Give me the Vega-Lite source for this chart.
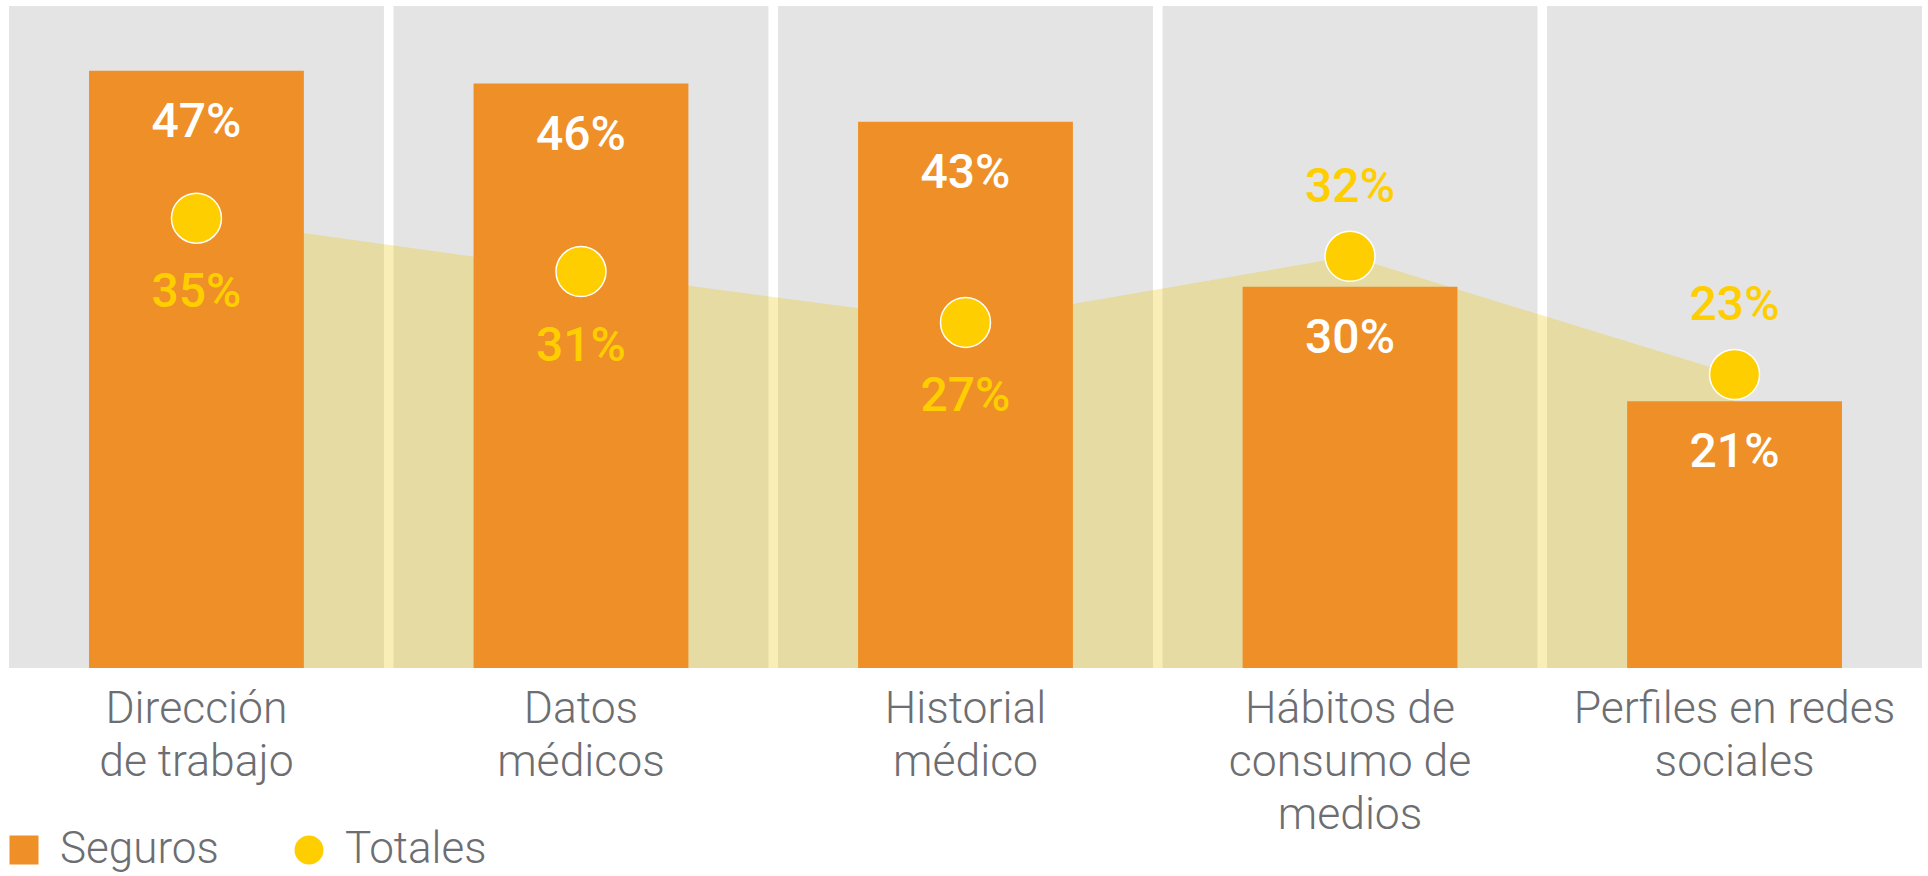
{
  "$schema": "https://vega.github.io/schema/vega-lite/v6.json",
  "width": 1913,
  "height": 662,
  "autosize": "none",
  "padding": {"left": 9, "top": 6, "right": 6, "bottom": 208},
  "background": "white",
  "config": {"view": {"stroke": null}, "font": "Roboto"},
  "data": {"values": [
    {"categoria": "Dirección de trabajo", "seguros": 0.47, "totales": 0.354},
    {"categoria": "Datos médicos", "seguros": 0.46, "totales": 0.312},
    {"categoria": "Historial médico", "seguros": 0.43, "totales": 0.272},
    {"categoria": "Hábitos de consumo de medios", "seguros": 0.30, "totales": 0.324},
    {"categoria": "Perfiles en redes sociales", "seguros": 0.21, "totales": 0.231}
  ]},
  "encoding": {
    "x": {
      "field": "categoria", "type": "nominal", "sort": null,
      "scale": {"paddingInner": 0.025, "paddingOuter": 0},
      "axis": {
        "title": null, "domain": false, "ticks": false, "labelAngle": 0,
        "labelFont": "Roboto", "labelFontWeight": 300, "labelFontSize": 44.5,
        "labelLineHeight": 53, "labelColor": "#6D6E71", "labelPadding": 19,
        "labelBaseline": "top", "labelLimit": 0, "labelOverlap": false,
        "labelExpr": "datum.value == 'Dirección de trabajo' ? ['Dirección', 'de trabajo'] : datum.value == 'Datos médicos' ? ['Datos', 'médicos'] : datum.value == 'Historial médico' ? ['Historial', 'médico'] : datum.value == 'Hábitos de consumo de medios' ? ['Hábitos de', 'consumo de', 'medios'] : ['Perfiles en redes', 'sociales']"
      }
    }
  },
  "layer": [
    {
      "mark": {"type": "bar", "color": "#E4E4E4"},
      "encoding": {
        "y": {"datum": 0.521, "type": "quantitative", "scale": {"domain": [0, 0.521], "nice": false, "zero": true}, "axis": null}
      }
    },
    {
      "mark": {"type": "area", "color": "#EBC300", "opacity": 0.29},
      "encoding": {
        "y": {"field": "totales", "type": "quantitative", "axis": null}
      }
    },
    {
      "mark": {"type": "bar", "width": {"band": 0.573}},
      "encoding": {
        "y": {"field": "seguros", "type": "quantitative", "axis": null},
        "color": {
          "datum": "Seguros",
          "scale": {"domain": ["Seguros", "Totales"], "range": ["#EF8F27", "#FFCE00"]},
          "legend": {
            "orient": "none", "legendX": -7, "legendY": 822, "direction": "horizontal",
            "title": null, "symbolSize": 841, "symbolStrokeWidth": 0, "symbolOpacity": 1,
            "labelFont": "Roboto", "labelFontWeight": 300, "labelFontSize": 44, "labelColor": "#6D6E71",
            "labelOffset": 14, "columnPadding": 68, "padding": 0, "labelLimit": 0,
            "encode": {"symbols": {"update": {"shape": {"signal": "datum.value === 'Seguros' ? 'square' : 'circle'"}}}}
          }
        }
      }
    },
    {
      "mark": {"type": "circle", "size": 2500, "stroke": "white", "strokeWidth": 1.5, "opacity": 1},
      "encoding": {
        "y": {"field": "totales", "type": "quantitative", "axis": null},
        "color": {"datum": "Totales"}
      }
    },
    {
      "mark": {"type": "text", "color": "white", "fontSize": 48, "fontWeight": 500, "baseline": "middle", "dy": 52},
      "encoding": {
        "y": {"field": "seguros", "type": "quantitative", "axis": null},
        "text": {"field": "seguros", "type": "quantitative", "format": ".0%"}
      }
    },
    {
      "transform": [{"filter": "datum.totales < datum.seguros"}],
      "mark": {"type": "text", "color": "#FFCE00", "fontSize": 48, "fontWeight": 500, "baseline": "middle", "dy": 75},
      "encoding": {
        "y": {"field": "totales", "type": "quantitative", "axis": null},
        "text": {"field": "totales", "type": "quantitative", "format": ".0%"}
      }
    },
    {
      "transform": [{"filter": "datum.totales >= datum.seguros"}],
      "mark": {"type": "text", "color": "#FFCE00", "fontSize": 48, "fontWeight": 500, "baseline": "middle", "dy": -68},
      "encoding": {
        "y": {"field": "totales", "type": "quantitative", "axis": null},
        "text": {"field": "totales", "type": "quantitative", "format": ".0%"}
      }
    }
  ]
}
